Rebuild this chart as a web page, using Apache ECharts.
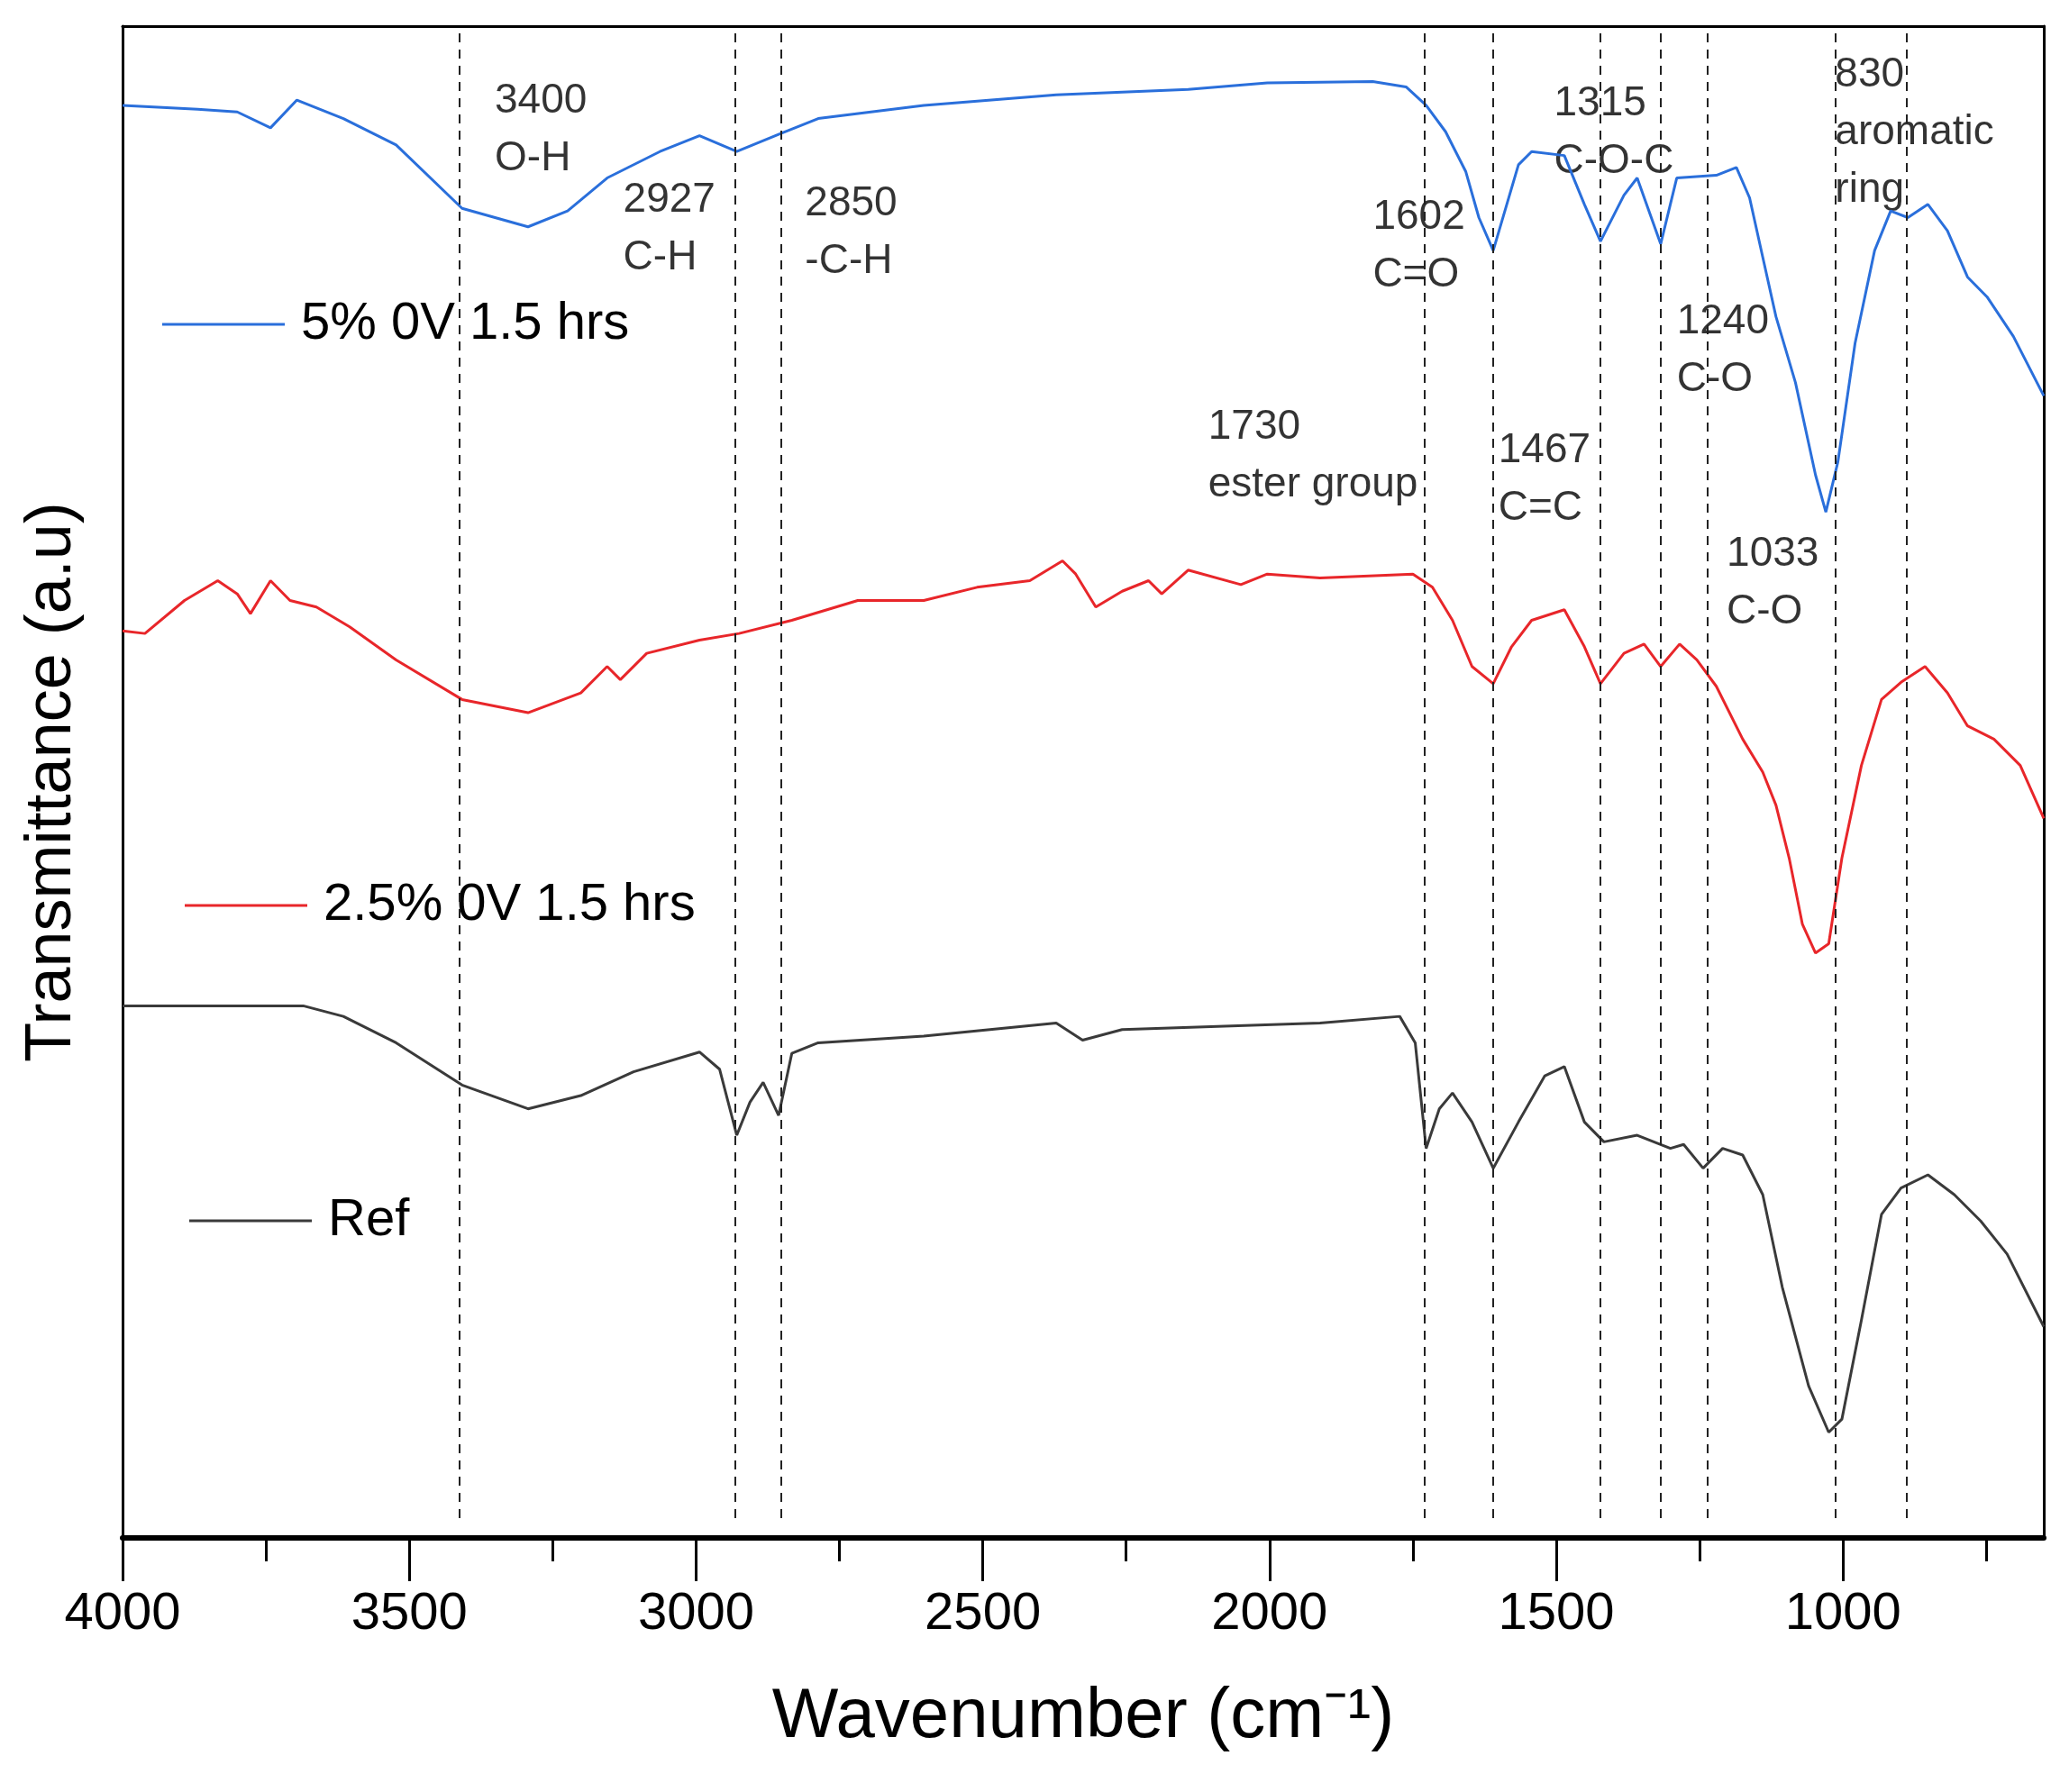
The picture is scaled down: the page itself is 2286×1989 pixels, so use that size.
<!DOCTYPE html><html><head><meta charset="utf-8"><script src="https://cdn.jsdelivr.net/npm/echarts@6/dist/echarts.min.js"></script>
<style>html,body{margin:0;background:#fff}#c{width:2286px;height:1989px}</style></head><body><div id="c"></div><script>
const wnBlue=[4000,3869,3800,3742,3696,3615,3523,3408,3293,3224,3155,3063,2994,2929,2856,2787,2603,2372,2142,2004,1820,1762,1727,1693,1658,1635,1610,1566,1543,1486,1451,1423,1382,1359,1318,1290,1221,1186,1163,1140,1117,1083,1048,1030,1009,979,945,917,887,852,818,783,749,703,650];
const valBlue=[1085,1082,1080,1068,1089,1075,1055,1007,993,1005,1030,1050,1062,1050,1063,1075,1085,1093,1097,1102,1103,1099,1085,1065,1035,1000,975,1040,1050,1047,1010,982,1017,1030,980,1030,1032,1038,1015,970,925,875,805,777,815,905,975,1005,1000,1010,990,955,940,910,865];
const wnRed=[4000,3961,3892,3834,3800,3777,3742,3708,3662,3604,3523,3408,3293,3201,3155,3132,3086,2994,2925,2833,2718,2603,2510,2418,2361,2338,2303,2257,2211,2188,2142,2050,2004,1912,1750,1716,1681,1647,1610,1578,1543,1486,1451,1423,1382,1347,1318,1285,1255,1221,1175,1140,1117,1094,1071,1048,1025,1002,968,933,899,857,818,783,737,691,650];
const valRed=[687,685,710,725,715,700,725,710,705,690,665,635,625,640,660,650,670,680,685,695,710,710,720,725,740,730,705,717,725,715,733,722,730,727,730,720,695,660,647,675,695,703,675,647,670,677,660,677,665,645,605,580,555,515,465,443,450,515,585,635,648,660,640,615,605,585,545];
const wnRef=[4000,3685,3615,3523,3408,3293,3201,3109,2994,2959,2929,2906,2883,2856,2833,2787,2603,2372,2326,2257,1912,1773,1746,1727,1704,1681,1647,1610,1566,1520,1486,1451,1417,1359,1301,1278,1244,1210,1175,1140,1106,1060,1025,1002,968,933,899,852,806,760,714,650];
const valRef=[403,403,395,375,343,325,335,353,368,355,305,330,345,320,367,375,380,390,377,385,390,395,375,295,325,337,315,280,315,350,357,315,300,305,295,298,280,295,290,260,190,115,80,90,165,245,265,275,260,240,215,160];
const peakLines=[3413,2932,2851,1730,1610,1423,1318,1237,1014,889];
const notes=[["3400\nO-H",3351,1110],["2927\nC-H",3127,1035],["2850\n-C-H",2810,1032],["1602\nC=O",1820,1022],["1315\nC-O-C",1504,1108],["830\naromatic\nring",1014,1130],["1240\nC-O",1290,943],["1730\nester group",2107,863],["1467\nC=C",1601,845],["1033\nC-O",1203,767]];
const legends=[["5% 0V 1.5 hrs","#2a6fdb",180,360],["2.5% 0V 1.5 hrs","#e8262a",205,1005],["Ref","#3a3a3a",210,1355]];
const majorTicks=[4000,3500,3000,2500,2000,1500,1000];
const minorTicks=[3750,3250,2750,2250,1750,1250,750];
const zip=(a,b)=>a.map((x,i)=>[x,b[i]]);
const F='Arial, "Liberation Sans", sans-serif';
const ch=echarts.init(document.getElementById('c'));
const grid={left:136,right:18,top:29,bottom:282,containLabel:false,outerBoundsMode:'none'};
const xb={type:'value',min:650,max:4000,inverse:true,splitLine:{show:false}};
ch.setOption({
animation:false,
grid:grid,
xAxis:[Object.assign({},xb,{axisLine:{lineStyle:{color:'#000',width:6}},axisTick:{length:48,inside:false,lineStyle:{color:'#000',width:3},customValues:majorTicks},
 axisLabel:{customValues:majorTicks,formatter:v=>String(v),fontSize:58,color:'#000',fontFamily:F,margin:56},
 name:'Wavenumber (cm⁻¹)',nameLocation:'middle',nameGap:160,nameTextStyle:{fontSize:78,color:'#000',fontFamily:F}}),
 Object.assign({},xb,{position:'bottom',axisLine:{show:false},axisTick:{length:26,lineStyle:{color:'#000',width:3},customValues:minorTicks},axisLabel:{show:false}}),
 Object.assign({},xb,{position:'top',axisLine:{lineStyle:{color:'#000',width:3}},axisTick:{show:false},axisLabel:{show:false}})],
yAxis:[{type:'value',min:0,max:1145,axisLine:{show:true,lineStyle:{color:'#000',width:3}},axisTick:{show:false},axisLabel:{show:false},splitLine:{show:false},
 name:'Transmittance (a.u)',nameLocation:'middle',nameGap:42,nameTextStyle:{fontSize:72,color:'#000',fontFamily:F}},
 {type:'value',min:0,max:1145,position:'right',axisLine:{show:true,lineStyle:{color:'#000',width:3}},axisTick:{show:false},axisLabel:{show:false},splitLine:{show:false}}],
series:[
{type:'line',data:zip(wnBlue,valBlue),showSymbol:false,lineStyle:{color:'#2a6fdb',width:3},
 markLine:{silent:true,symbol:'none',label:{show:false},lineStyle:{color:'#222',type:[10,8],width:2},data:peakLines.map(w=>[{coord:[w,15]},{coord:[w,1145]}])}},
{type:'line',data:zip(wnRed,valRed),showSymbol:false,lineStyle:{color:'#e8262a',width:3}},
{type:'line',data:zip(wnRef,valRef),showSymbol:false,lineStyle:{color:'#3a3a3a',width:3}},
{type:'scatter',symbolSize:0,data:notes.map(n=>({value:[n[1],n[2]],name:n[0]})),
 label:{show:true,formatter:p=>p.name,position:'inside',align:'left',verticalAlign:'top',fontSize:46,lineHeight:64,color:'#000',fontFamily:F}}
],
graphic:legends.flatMap(l=>[{type:'line',shape:{x1:l[2],y1:l[3],x2:l[2]+136,y2:l[3]},style:{stroke:l[1],lineWidth:3}},
 {type:'text',x:l[2]+154,y:l[3],style:{text:l[0],fill:'#000',font:'58px '+F,verticalAlign:'middle'}}])
});
</script></body></html>
